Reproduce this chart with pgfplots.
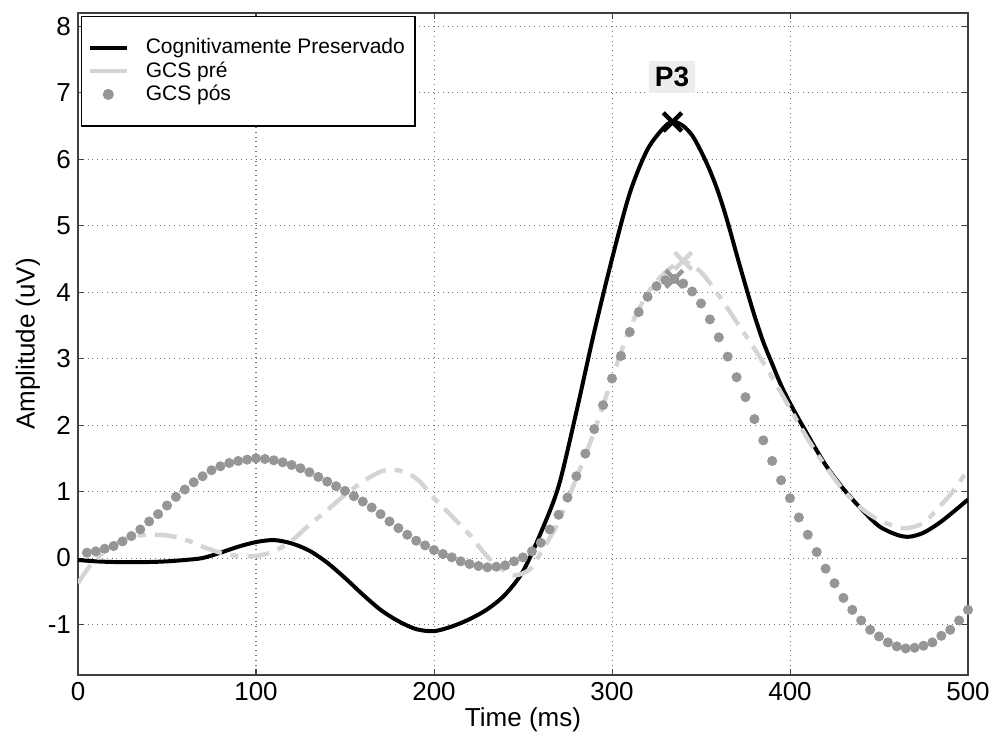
\documentclass[border=0pt]{standalone}
\usepackage{fontspec}
\setmainfont{Liberation Sans}
\usepackage{pgfplots}
\pgfplotsset{compat=1.18}
\definecolor{preC}{RGB}{212,212,212}
\definecolor{posC}{RGB}{150,150,150}
\pgfplotsset{
  linelegend/.style={legend image code/.code={\draw[##1] (0pt,0pt) -- (18.5pt,0pt); \path[draw=none,fill=none] (0pt,0pt) -- (26pt,0pt);}},
  solidlegend/.style={legend image code/.code={\draw[##1, solid] (0pt,0pt) -- (18.5pt,0pt); \path[draw=none,fill=none] (0pt,0pt) -- (26pt,0pt);}},
  dotlegend/.style={legend image code/.code={\path[draw=none,fill=none] (0pt,0pt) -- (26pt,0pt); \draw[##1, draw=none] plot coordinates {(9.25pt,0pt)};}},
}
\begin{document}
\begin{tikzpicture}
\useasboundingbox (0,0) rectangle (496pt,372.5pt);
\begin{axis}[
  at={(39pt,35pt)}, anchor=south west,
  scale only axis, width=445pt, height=331pt,
  xmin=0, xmax=500, ymin=-1.76, ymax=8.2,
  xtick={0,100,...,500}, ytick={-1,0,...,8},
  /pgf/number format/assume math mode=true,
  tick label style={font=\fontsize{13}{15}\selectfont},
  label style={font=\fontsize{13}{15}\selectfont},
  xlabel={Time (ms)}, ylabel={Amplitude (uV)},
  xlabel style={at={(axis description cs:0.5,-0.068)}, anchor=center},
  ylabel style={at={(axis description cs:-0.0562,0.5)}, anchor=center},
  tick align=inside, major tick length=3pt,
  axis line style={black!75, line width=0.6pt},
  tick style={black!75, line width=0.5pt},
  grid=major,
  major grid style={dotted, black!55, line width=0.5pt},
  legend cell align=left,
  legend style={at={(axis description cs:0.003,0.996)}, anchor=north west,
    draw=black, line width=0.9pt, font=\fontsize{10.5}{12}\selectfont,
    inner xsep=3pt, inner ysep=9pt, row sep=-1.5pt},
]
\addplot[black, line width=2pt, smooth, tension=0.5, linelegend] coordinates {
(0,-0.03) (10,-0.05) (20,-0.06) (30,-0.06) (40,-0.06) (50,-0.05) (60,-0.03)
(70,0.0) (80,0.08) (90,0.17) (100,0.24) (110,0.27) (120,0.22) (130,0.11)
(140,-0.07) (150,-0.30) (160,-0.55) (170,-0.78) (180,-0.95) (190,-1.07)
(200,-1.10) (210,-1.03) (220,-0.92) (230,-0.77) (240,-0.55) (250,-0.20)
(260,0.38) (270,1.08) (280,2.20) (290,3.40) (300,4.50) (310,5.49) (320,6.15)
(330,6.50) (335,6.56) (340,6.50) (345,6.36) (350,6.12) (355,5.83) (360,5.48)
(365,5.05) (370,4.57) (375,4.10) (380,3.65) (385,3.25) (390,2.92) (395,2.60)
(400,2.33) (410,1.85) (420,1.40) (430,1.04) (440,0.74) (450,0.48) (460,0.35)
(467,0.32) (475,0.38) (484,0.53) (492,0.70) (500,0.88)
};
\addlegendentry{Cognitivamente Preservado}
\addplot[preC, line width=2.2pt, smooth, tension=0.5,
  dash pattern=on 11pt off 4.5pt on 4pt off 4.5pt, solidlegend] coordinates {
(0,-0.38) (5,-0.18) (10,-0.02) (20,0.20) (30,0.32) (40,0.35) (50,0.34)
(60,0.28) (70,0.17) (80,0.08) (90,0.03) (100,0.03) (110,0.10) (120,0.26)
(130,0.50) (140,0.72) (150,0.95) (160,1.15) (170,1.30) (177,1.33) (185,1.28)
(192,1.15) (200,0.90) (210,0.63) (220,0.35) (230,0.02) (240,-0.20) (245,-0.26)
(250,-0.23) (255,-0.14) (260,0.08) (265,0.30) (270,0.55) (280,1.20) (290,1.90)
(300,2.70) (310,3.45) (320,3.98) (330,4.30) (340,4.46) (350,4.30) (360,3.95)
(370,3.55) (380,3.15) (390,2.72) (400,2.25) (410,1.79) (420,1.38) (430,1.02)
(440,0.75) (450,0.57) (460,0.47) (466,0.45) (475,0.53) (485,0.80) (492,1.02)
(500,1.33)
};
\addlegendentry{GCS pré}
\addplot[only marks, mark=*, mark size=2.3pt, color=posC, dotlegend] coordinates {
(5,0.08) (10,0.10) (15,0.14) (20,0.18) (25,0.25) (30,0.33) (35,0.43) (40,0.55)
(45,0.66) (50,0.79) (55,0.92) (60,1.03) (65,1.14) (70,1.23) (75,1.32) (80,1.38)
(85,1.43) (90,1.46) (95,1.48) (100,1.50) (105,1.49) (110,1.47) (115,1.44)
(120,1.40) (125,1.35) (130,1.29) (135,1.22) (140,1.15) (145,1.08) (150,1.01)
(155,0.93) (160,0.85) (165,0.76) (170,0.66) (175,0.55) (180,0.45) (185,0.35)
(190,0.26) (195,0.19) (200,0.12) (205,0.06) (210,0.01) (215,-0.05) (220,-0.09)
(225,-0.12) (230,-0.14) (235,-0.13) (240,-0.11) (245,-0.05) (250,0.01)
(255,0.10) (260,0.23) (265,0.43) (270,0.65) (275,0.91) (280,1.23) (285,1.57)
(290,1.94) (295,2.30) (300,2.70) (305,3.04) (310,3.40) (315,3.70) (320,3.93)
(325,4.09) (330,4.18) (335,4.20) (340,4.13) (345,4.01) (350,3.83) (355,3.59)
(360,3.32) (365,3.03) (370,2.72) (375,2.42) (380,2.09) (385,1.77) (390,1.46)
(395,1.17) (400,0.90) (405,0.61) (410,0.35) (415,0.09) (420,-0.16) (425,-0.38)
(430,-0.60) (435,-0.78) (440,-0.94) (445,-1.08) (450,-1.18) (455,-1.27)
(460,-1.33) (465,-1.36) (470,-1.35) (475,-1.32) (480,-1.27) (485,-1.17)
(490,-1.08) (495,-0.94) (500,-0.78)
};
\addlegendentry{GCS pós}
\addplot[only marks, mark=x, mark size=6pt, mark options={line width=2.2pt}, color=preC, forget plot] coordinates {(340,4.47)};
\addplot[only marks, mark=x, mark size=6pt, mark options={line width=2.2pt}, color=posC, forget plot] coordinates {(335,4.20)};
\addplot[only marks, mark=x, mark size=6.5pt, mark options={line width=2.2pt}, color=black, forget plot] coordinates {(334,6.56)};
\node[fill=black!7, inner sep=3pt, font=\fontsize{14}{16}\selectfont\bfseries] at (axis cs:333.7,7.24) {P3};
\end{axis}
\end{tikzpicture}
\end{document}
